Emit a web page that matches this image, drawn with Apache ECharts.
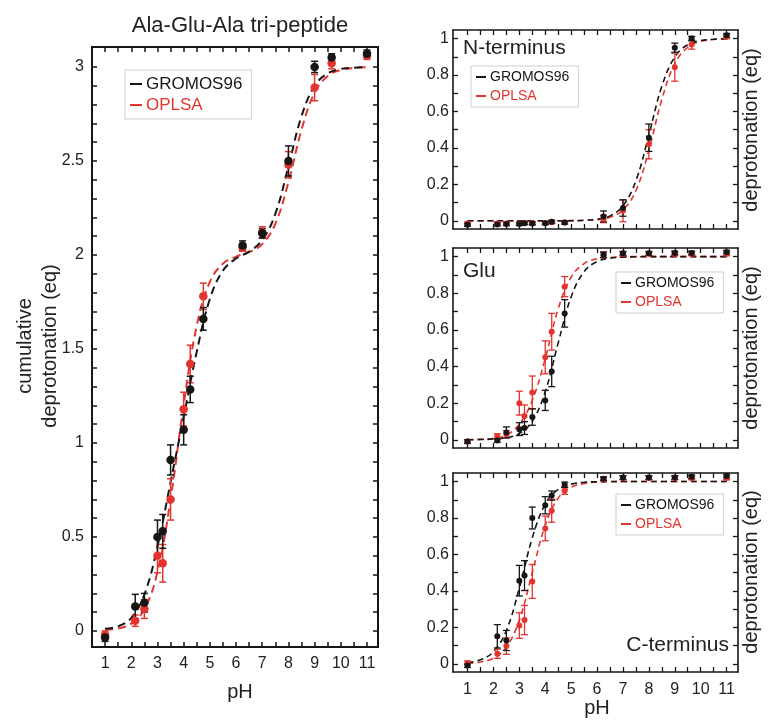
<!DOCTYPE html>
<html>
<head>
<meta charset="utf-8">
<script src="https://cdn.jsdelivr.net/npm/echarts@6/dist/echarts.min.js"></script>
<style>
html,body{margin:0;padding:0;background:#fff;}
#chart{width:769px;height:720px;}
</style>
</head>
<body>
<div id="chart"></div>
<script>
// ---------- data ----------
const phPoints = [1, 2.15, 2.5, 3, 3.2, 3.5, 4, 4.25, 4.75, 6.25, 7, 8, 9, 9.65, 11];

// cumulative (left panel)
const cumGromos    = [-0.035, 0.13, 0.15, 0.50, 0.53, 0.91, 1.07, 1.285, 1.66, 2.05, 2.115, 2.50, 3.00, 3.05, 3.07];
const cumGromosErr = [0.02, 0.065, 0.05, 0.09, 0.09, 0.08, 0.08, 0.07, 0.06, 0.025, 0.025, 0.08, 0.03, 0.02, 0.02];
const cumOplsa     = [-0.02, 0.055, 0.117, 0.40, 0.36, 0.70, 1.18, 1.42, 1.78, 2.04, 2.12, 2.48, 2.89, 3.02, 3.06];
const cumOplsaErr  = [0.02, 0.03, 0.05, 0.09, 0.10, 0.11, 0.09, 0.10, 0.07, 0.02, 0.03, 0.07, 0.07, 0.03, 0.02];

// N-terminus
const nGromos    = [-0.022, -0.02, -0.018, -0.018, -0.013, -0.015, -0.013, -0.005, -0.01, 0.024, 0.07, 0.456, 0.95, 1.0, 1.018];
const nGromosErr = [0.008, 0.008, 0.008, 0.008, 0.008, 0.008, 0.008, 0.008, 0.008, 0.03, 0.045, 0.075, 0.025, 0.012, 0.01];
const nOplsa     = [-0.015, -0.015, -0.015, -0.015, -0.012, -0.012, -0.012, -0.008, -0.01, 0.01, 0.055, 0.42, 0.843, 0.967, 1.01];
const nOplsaErr  = [0.008, 0.008, 0.008, 0.008, 0.008, 0.008, 0.008, 0.008, 0.008, 0.02, 0.06, 0.08, 0.077, 0.025, 0.01];

// Glu
const gluGromos    = [-0.01, -0.004, 0.04, 0.058, 0.064, 0.124, 0.215, 0.373, 0.69, 1.01, 1.018, 1.018, 1.02, 1.02, 1.024];
const gluGromosErr = [0.01, 0.01, 0.03, 0.035, 0.035, 0.045, 0.055, 0.083, 0.075, 0.015, 0.01, 0.01, 0.01, 0.01, 0.01];
const gluOplsa     = [-0.01, 0.018, 0.03, 0.2, 0.13, 0.258, 0.45, 0.59, 0.836, 1.01, 1.015, 1.015, 1.015, 1.015, 1.015];
const gluOplsaErr  = [0.01, 0.015, 0.02, 0.065, 0.06, 0.09, 0.09, 0.1, 0.055, 0.015, 0.01, 0.01, 0.01, 0.01, 0.01];

// C-terminus
const cGromos    = [-0.01, 0.151, 0.128, 0.456, 0.484, 0.80, 0.87, 0.923, 0.982, 1.016, 1.022, 1.022, 1.022, 1.026, 1.03];
const cGromosErr = [0.01, 0.064, 0.055, 0.084, 0.082, 0.06, 0.047, 0.025, 0.015, 0.01, 0.01, 0.01, 0.01, 0.01, 0.01];
const cOplsa     = [0.005, 0.055, 0.097, 0.21, 0.24, 0.452, 0.743, 0.84, 0.95, 1.013, 1.02, 1.02, 1.02, 1.02, 1.02];
const cOplsaErr  = [0.01, 0.025, 0.045, 0.07, 0.08, 0.093, 0.068, 0.063, 0.02, 0.01, 0.01, 0.01, 0.01, 0.01, 0.01];

// dashed fit curves, read at these pH values
const fitPH = [1, 1.5, 2, 2.5, 3, 3.5, 4, 4.5, 5, 5.5, 6, 6.5, 7, 7.5, 8, 8.5, 9, 9.5, 10, 10.5, 11];
const cumGromosFit = [0.012, 0.025, 0.07, 0.194, 0.449, 0.792, 1.138, 1.486, 1.766, 1.917, 1.981, 2.018, 2.079, 2.219, 2.471, 2.738, 2.899, 2.966, 2.989, 2.996, 2.999];
const cumOplsaFit  = [0.008, 0.014, 0.039, 0.115, 0.314, 0.701, 1.203, 1.624, 1.857, 1.954, 1.991, 2.015, 2.058, 2.166, 2.387, 2.666, 2.863, 2.952, 2.984, 2.995, 2.998];
const nGromosFit   = [0, 0, 0, 0, 0, 0, 0, 0, 0.001, 0.003, 0.009, 0.027, 0.082, 0.22, 0.471, 0.738, 0.899, 0.966, 0.989, 0.996, 0.999];
const nOplsaFit    = [0, 0, 0, 0, 0, 0, 0, 0, 0, 0.002, 0.006, 0.02, 0.059, 0.166, 0.387, 0.666, 0.863, 0.952, 0.984, 0.995, 0.998];
const gluGromosFit = [0, 0.001, 0.004, 0.011, 0.034, 0.101, 0.262, 0.529, 0.78, 0.918, 0.973, 0.991, 0.997, 0.999, 1, 1, 1, 1, 1, 1, 1];
const gluOplsaFit  = [0.001, 0.003, 0.008, 0.026, 0.085, 0.215, 0.443, 0.715, 0.888, 0.962, 0.988, 0.996, 0.999, 1, 1, 1, 1, 1, 1, 1, 1];
const cGromosFit   = [0.007, 0.022, 0.066, 0.183, 0.415, 0.691, 0.876, 0.957, 0.986, 0.996, 0.999, 1, 1, 1, 1, 1, 1, 1, 1, 1, 1];
const cOplsaFit    = [0.003, 0.01, 0.031, 0.091, 0.24, 0.5, 0.76, 0.909, 0.969, 0.99, 0.997, 0.999, 1, 1, 1, 1, 1, 1, 1, 1, 1];

// tick labels
const xTickLabels = [1, 2, 3, 4, 5, 6, 7, 8, 9, 10, 11];
const xTicks = [1, 1.5, 2, 2.5, 3, 3.5, 4, 4.5, 5, 5.5, 6, 6.5, 7, 7.5, 8, 8.5, 9, 9.5, 10, 10.5, 11];
const cumYLabels = [0, 0.5, 1, 1.5, 2, 2.5, 3];
const cumYTicks = [0, 0.1, 0.2, 0.3, 0.4, 0.5, 0.6, 0.7, 0.8, 0.9, 1, 1.1, 1.2, 1.3, 1.4, 1.5, 1.6, 1.7, 1.8, 1.9, 2, 2.1, 2.2, 2.3, 2.4, 2.5, 2.6, 2.7, 2.8, 2.9, 3];
const fracYLabels = [0, 0.2, 0.4, 0.6, 0.8, 1];
const fracYTicks = [0, 0.1, 0.2, 0.3, 0.4, 0.5, 0.6, 0.7, 0.8, 0.9, 1];

const seriesNames = ['GROMOS96', 'OPLSA'];
const panelLabels = ['N-terminus', 'Glu', 'C-terminus'];

// ---------- styling ----------
const BLACK = '#161616';
const RED = '#e3342f';
const FONT = '"Liberation Sans", Arial, sans-serif';

const grids = [
  {left: 92, top: 47, width: 286, height: 600},
  {left: 453, top: 30, width: 285, height: 199},
  {left: 453, top: 248, width: 285, height: 200},
  {left: 453, top: 473, width: 285, height: 199}
];
const xRanges = [[0.5, 11.42], [0.44, 11.44], [0.44, 11.44], [0.44, 11.44]];
const yRanges = [[-0.085, 3.106], [-0.045, 1.047], [-0.045, 1.047], [-0.045, 1.047]];

const panels = [
  {g: cumGromos, gE: cumGromosErr, o: cumOplsa, oE: cumOplsaErr, gF: cumGromosFit, oF: cumOplsaFit},
  {g: nGromos, gE: nGromosErr, o: nOplsa, oE: nOplsaErr, gF: nGromosFit, oF: nOplsaFit},
  {g: gluGromos, gE: gluGromosErr, o: gluOplsa, oE: gluOplsaErr, gF: gluGromosFit, oF: gluOplsaFit},
  {g: cGromos, gE: cGromosErr, o: cOplsa, oE: cOplsaErr, gF: cGromosFit, oF: cOplsaFit}
];

const xAxes = [], yAxes = [], series = [];
panels.forEach((p, i) => {
  const big = i === 0;
  const lw = big ? 2 : 1.6;
  const showX = (i === 0 || i === 3);
  const tickStyle = {show: true, inside: true, length: 5, lineStyle: {color: BLACK, width: big ? 1.5 : 1.3}};
  const axisLine = {show: true, onZero: false, lineStyle: {color: BLACK, width: lw}};
  xAxes.push({
    type: 'value', gridIndex: i, position: 'bottom', min: xRanges[i][0], max: xRanges[i][1],
    axisLine: axisLine, splitLine: {show: false},
    axisTick: Object.assign({customValues: xTicks}, tickStyle),
    axisLabel: {show: showX, customValues: xTickLabels, margin: big ? 9 : 10, color: '#222', fontSize: 16, fontFamily: FONT}
  });
  xAxes.push({
    type: 'value', gridIndex: i, position: 'top', min: xRanges[i][0], max: xRanges[i][1],
    axisLine: axisLine, splitLine: {show: false},
    axisTick: Object.assign({customValues: xTicks}, tickStyle),
    axisLabel: {show: false}
  });
  const yl = big ? cumYLabels : fracYLabels;
  const yt = big ? cumYTicks : fracYTicks;
  yAxes.push({
    type: 'value', gridIndex: i, position: 'left', min: yRanges[i][0], max: yRanges[i][1],
    axisLine: axisLine, splitLine: {show: false},
    axisTick: Object.assign({customValues: yt}, tickStyle),
    axisLabel: {show: true, customValues: yl, margin: big ? 8 : 4, color: '#222', fontSize: 16, fontFamily: FONT,
      formatter: v => String(v)}
  });
  yAxes.push({
    type: 'value', gridIndex: i, position: 'right', min: yRanges[i][0], max: yRanges[i][1],
    axisLine: axisLine, splitLine: {show: false},
    axisTick: Object.assign({customValues: yt}, tickStyle),
    axisLabel: {show: false}
  });

  const ax = {xAxisIndex: 2 * i, yAxisIndex: 2 * i};
  const dash = big ? [8, 5] : [6, 4];
  const sym = big ? 8.5 : 6;
  const cap = 3.5;
  const ew = big ? 1.5 : 1.3;

  function errSeries(name, vals, errs, color) {
    return Object.assign({
      type: 'custom', name: name, z: 3, silent: true,
      data: phPoints.map((x, k) => [x, vals[k], errs[k]]),
      encode: {x: 0, y: 1},
      renderItem: function (params, api) {
        const x = api.value(0), y = api.value(1), e = api.value(2);
        const t = api.coord([x, y + e]);
        const b = api.coord([x, y - e]);
        const st = {stroke: color, lineWidth: ew};
        return {type: 'group', children: [
          {type: 'line', shape: {x1: t[0], y1: t[1], x2: b[0], y2: b[1]}, style: st},
          {type: 'line', shape: {x1: t[0] - cap, y1: t[1], x2: t[0] + cap, y2: t[1]}, style: st},
          {type: 'line', shape: {x1: b[0] - cap, y1: b[1], x2: b[0] + cap, y2: b[1]}, style: st}
        ]};
      }
    }, ax);
  }
  function fitSeries(name, vals, color) {
    return Object.assign({
      type: 'line', name: name, z: 2, smooth: 0.4, showSymbol: false, silent: true,
      data: fitPH.map((x, k) => [x, vals[k]]),
      itemStyle: {color: color},
      lineStyle: {color: color, width: big ? 2 : 1.6, type: dash}
    }, ax);
  }
  function ptSeries(name, vals, color) {
    return Object.assign({
      type: 'scatter', name: name, z: 4, symbol: 'circle', symbolSize: sym, silent: true,
      data: phPoints.map((x, k) => [x, vals[k]]),
      itemStyle: {color: color, opacity: 1}
    }, ax);
  }
  series.push(fitSeries('OPLSA', p.oF, RED));
  series.push(fitSeries('GROMOS96', p.gF, BLACK));
  series.push(errSeries('OPLSA', p.o, p.oE, RED));
  series.push(ptSeries('OPLSA', p.o, RED));
  series.push(errSeries('GROMOS96', p.g, p.gE, BLACK));
  series.push(ptSeries('GROMOS96', p.g, BLACK));
});

function legend(left, top, big) {
  return {
    left: left, top: top, orient: 'vertical', icon: 'rect',
    itemWidth: big ? 12 : 10, itemHeight: 2, itemGap: big ? 1 : 3,
    selectedMode: false,
    borderColor: '#cfcfcf', borderWidth: 1, backgroundColor: '#fff',
    padding: big ? [4, 9, 4, 5] : [3, 9, 3, 5],
    textStyle: {fontFamily: FONT, fontSize: big ? 17 : 14, lineHeight: big ? 20 : 16, padding: [0, 0, 0, -1]},
    data: [
      {name: seriesNames[0], itemStyle: {color: BLACK}, textStyle: {color: BLACK}},
      {name: seriesNames[1], itemStyle: {color: RED}, textStyle: {color: RED}}
    ]
  };
}

const textBase = {fontFamily: FONT, fill: '#222'};
const graphic = [
  {type: 'text', x: 240, y: 26, style: Object.assign({text: 'Ala-Glu-Ala tri-peptide', fontSize: 22, textAlign: 'center', textVerticalAlign: 'middle'}, textBase)},
  {type: 'text', x: 240, y: 692, style: Object.assign({text: 'pH', fontSize: 20, textAlign: 'center', textVerticalAlign: 'middle'}, textBase)},
  {type: 'text', x: 597, y: 708, style: Object.assign({text: 'pH', fontSize: 20, textAlign: 'center', textVerticalAlign: 'middle'}, textBase)},
  {type: 'text', x: 38, y: 346, rotation: Math.PI / 2,
    style: Object.assign({text: 'cumulative\ndeprotonation (eq)', fontSize: 20, lineHeight: 25, textAlign: 'center', textVerticalAlign: 'middle'}, textBase)},
  {type: 'text', x: 751, y: 130, rotation: Math.PI / 2,
    style: Object.assign({text: 'deprotonation (eq)', fontSize: 20, textAlign: 'center', textVerticalAlign: 'middle'}, textBase)},
  {type: 'text', x: 751, y: 348, rotation: Math.PI / 2,
    style: Object.assign({text: 'deprotonation (eq)', fontSize: 20, textAlign: 'center', textVerticalAlign: 'middle'}, textBase)},
  {type: 'text', x: 751, y: 572, rotation: Math.PI / 2,
    style: Object.assign({text: 'deprotonation (eq)', fontSize: 20, textAlign: 'center', textVerticalAlign: 'middle'}, textBase)},
  {type: 'text', x: 463, y: 48, style: Object.assign({text: panelLabels[0], fontSize: 21, textAlign: 'left', textVerticalAlign: 'middle'}, textBase)},
  {type: 'text', x: 463, y: 271, style: Object.assign({text: panelLabels[1], fontSize: 21, textAlign: 'left', textVerticalAlign: 'middle'}, textBase)},
  {type: 'text', x: 729, y: 645, style: Object.assign({text: panelLabels[2], fontSize: 21, textAlign: 'right', textVerticalAlign: 'middle'}, textBase)}
];

const chart = echarts.init(document.getElementById('chart'), null, {renderer: 'canvas'});
chart.setOption({
  animation: false,
  backgroundColor: '#fff',
  textStyle: {fontFamily: FONT},
  grid: grids,
  xAxis: xAxes,
  yAxis: yAxes,
  legend: [legend(125, 70, true), legend(471, 66, false), legend(616, 272, false), legend(616, 494, false)],
  graphic: graphic,
  series: series
});
</script>
</body>
</html>
